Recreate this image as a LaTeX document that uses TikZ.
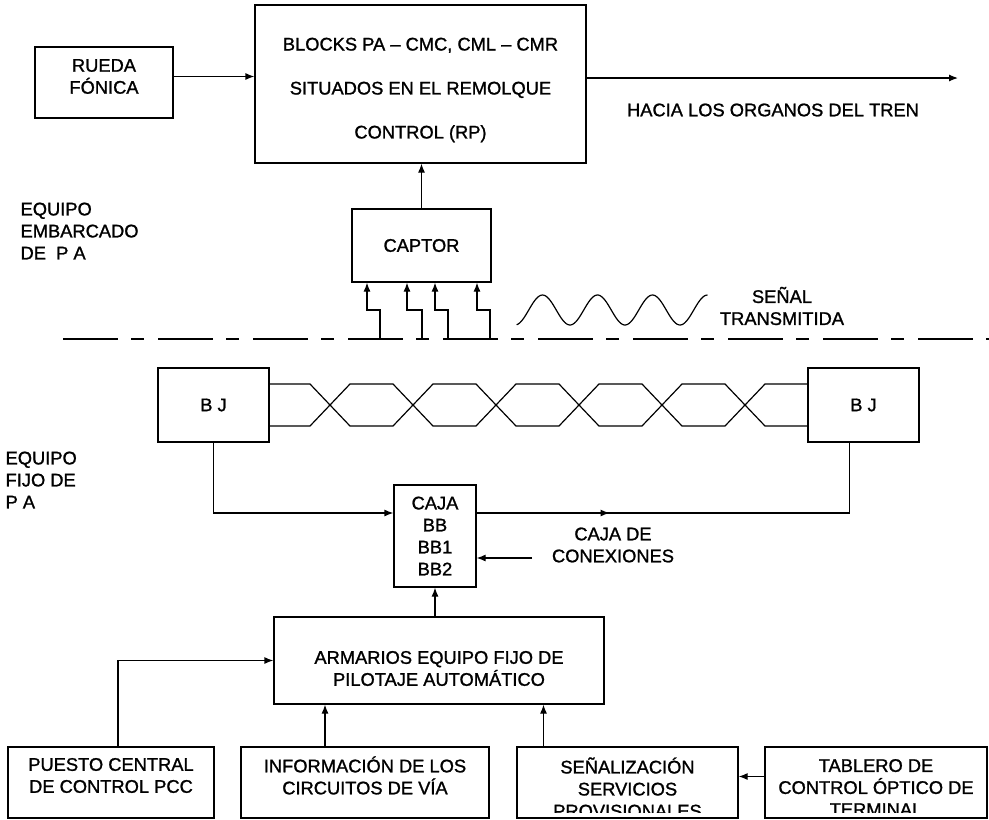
\documentclass[tikz,border=0pt]{standalone}
\usepackage{fontspec}
\setmainfont{Liberation Sans}[BoldFont={Liberation Sans}, BoldFeatures={FakeBold=1.2}]
\usetikzlibrary{arrows.meta,decorations.markings}

\begin{document}
\begin{tikzpicture}[
  x=1pt, y=-1pt,
  font=\fontsize{18.3}{22}\selectfont\bfseries,
  line width=1.2pt,
  box/.style={draw, line width=1.2pt, align=center, inner sep=0pt},
  boxtext/.style={align=center, inner sep=0pt},
  sidetext/.style={align=left, anchor=west, inner sep=0pt},
  lbl/.style={align=center, inner sep=0pt},
  arr/.style={-{Latex[length=9pt,width=7pt]}},
  midarr/.style={postaction={decorate}, decoration={markings, mark=at position 0.3 with {\arrow{Latex[length=9pt,width=7pt]}}}},
  divider/.style={dash pattern=on 55pt off 13pt on 13pt off 14pt},
]
\useasboundingbox (0,0) rectangle (989,820);

% ====== EQUIPO EMBARCADO ======
\node[box, minimum width=138pt, minimum height=71pt] (rueda) at (104,82.5) {};
\node[boxtext, yshift=6pt] (ruedatxt) at (rueda.center) {RUEDA\\FÓNICA};
\node[box, minimum width=331pt, minimum height=158pt] (blocks) at (420.5,84) {};
\node[boxtext, yshift=-6pt] (blockstxt) at (blocks.center) {BLOCKS PA -- CMC, CML -- CMR\\[22pt]SITUADOS EN EL REMOLQUE\\[22pt]CONTROL (RP)};
\node[box, minimum width=139pt, minimum height=73pt] (captor) at (421.5,245.5) {CAPTOR};

\node[sidetext] (embarcado) at (20,231) {EQUIPO\\EMBARCADO\\DE~ P A};
\node[lbl] (hacia) at (773,110) {HACIA LOS ORGANOS DEL TREN};
\node[lbl] (senallbl) at (782,306) {SEÑAL\\TRANSMITIDA};

\coordinate (tren) at (958,78);
\draw[arr] ([yshift=6pt]rueda.east) -- ([yshift=6pt]rueda.east -| blocks.west);
\draw[arr] (blocks.east |- tren) -- (tren);
\draw[arr] (captor.north) -- (captor.north |- blocks.south);

% wires from the track up into the captor
\foreach \xa/\xf in {367/380, 407/422, 435/448, 477/490}
  \draw[arr] (\xf,339) -- (\xf,310) -- (\xa,310) -- (\xa,310 |- captor.south);

% transmitted signal
\draw plot[domain=0.03:3.5, samples=120, smooth] ({515+55*\x}, {310+15*cos(360*\x)});

% dividing line
\coordinate (divl) at (63,339);
\coordinate (divr) at (989,339);
\draw[divider] (divl) -- (divr);

% ====== EQUIPO FIJO ======
\node[box, minimum width=111pt, minimum height=74pt] (bjl) at (213.5,405) {B J};
\node[box, minimum width=111pt, minimum height=74pt] (bjr) at (863.5,405) {B J};
\node[box, minimum width=82pt, minimum height=102pt] (caja) at (435,536) {CAJA\\BB\\BB1\\BB2};
\node[box, minimum width=330pt, minimum height=87pt] (armarios) at (439,660.5) {};
\node[boxtext, yshift=-8pt] (armariostxt) at (armarios.center) {ARMARIOS EQUIPO FIJO DE\\PILOTAJE AUTOMÁTICO};

\node[sidetext] (fijo) at (5,480) {EQUIPO\\FIJO DE\\P A};
\node[lbl] (conexiones) at (613,545) {CAJA DE\\CONEXIONES};

% twisted pair between the two BJ
\draw ([yshift=21pt]bjl.east) -- (310,384) -- (350,426) -- (393,426) -- (433,384) -- (476,384) -- (516,426)
  -- (559,426) -- (599,384) -- (642,384) -- (682,426) -- (725,426) -- (765,384) -- ([yshift=21pt]bjr.west);
\draw ([yshift=-21pt]bjl.east) -- (310,426) -- (350,384) -- (393,384) -- (433,426) -- (476,426) -- (516,384)
  -- (559,384) -- (599,426) -- (642,426) -- (682,384) -- (725,384) -- (765,426) -- ([yshift=-21pt]bjr.west);

\draw[arr] (bjl.south) |- ([yshift=23pt]caja.west);
\draw[midarr] ([yshift=23pt]caja.east) -| ([xshift=-14pt]bjr.south);
\coordinate (cx) at (532,558);
\draw[arr] (cx) -- (caja.east |- cx);
\draw[arr] (caja.south |- armarios.north) -- (caja.south);

% Bottom row
\node[box, minimum width=206pt, minimum height=71pt] (puesto) at (111,782.5) {};
\node[box, minimum width=248pt, minimum height=71pt] (info) at (365,782.5) {};
\node[box, minimum width=221pt, minimum height=71pt] (senal) at (627.5,782.5) {};
\node[box, minimum width=222pt, minimum height=71pt] (tablero) at (876,782.5) {};

\begin{scope}
\clip (0,0) rectangle (989,812);
\node[boxtext, yshift=7pt] (puestotxt) at (puesto.center) {PUESTO CENTRAL\\DE CONTROL PCC};
\node[boxtext, yshift=7pt] (infotxt) at (info.center) {INFORMACIÓN DE LOS\\CIRCUITOS DE VÍA};
\node[boxtext, yshift=-5pt] (senaltxt) at (senal.center) {SEÑALIZACIÓN\\SERVICIOS\\PROVISIONALES};
\node[boxtext, yshift=-5pt] (tablerotxt) at (tablero.center) {TABLERO DE\\CONTROL ÓPTICO DE\\TERMINAL};
\end{scope}

\draw[arr] ([xshift=7pt]puesto.north) |- (armarios.west);
\draw[arr] ([xshift=-40pt]info.north) -- ([xshift=-40pt]info.north |- armarios.south);
\draw[arr] ([xshift=-84pt]senal.north) -- ([xshift=-84pt]senal.north |- armarios.south);
\draw[arr] ([yshift=6pt]tablero.west) -- ([yshift=6pt]tablero.west -| senal.east);

\end{tikzpicture}
\end{document}
